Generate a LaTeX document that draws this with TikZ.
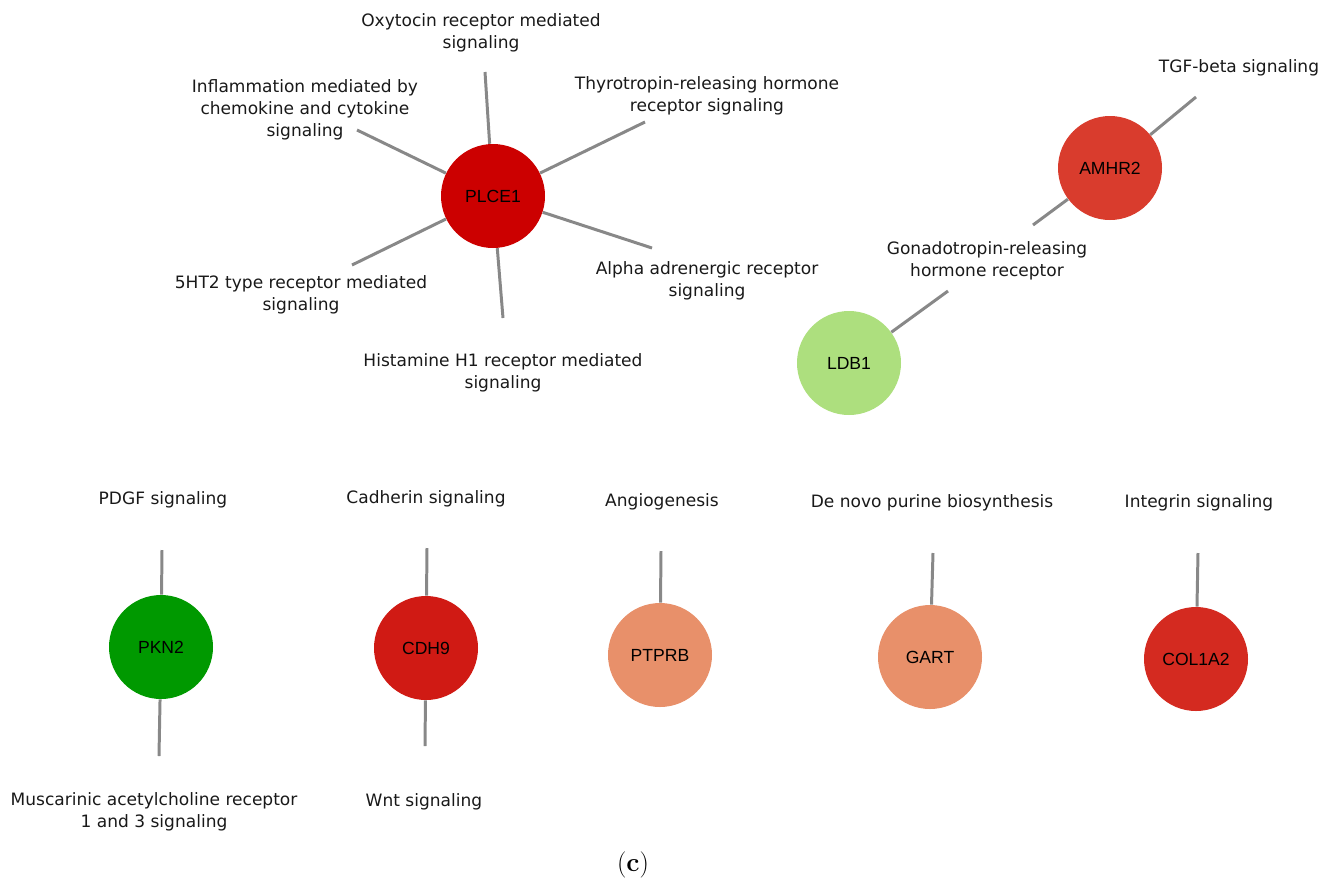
\documentclass[tikz,border=0pt]{standalone}
\usepackage{fontspec}
\setmainfont{Latin Modern Roman}
\newfontfamily\lblfont{DejaVu Sans}
\newfontfamily\genefont{Liberation Sans}
\definecolor{cPLCE}{RGB}{204,0,0}
\definecolor{cAMHR}{RGB}{217,60,45}
\definecolor{cLDB}{RGB}{173,223,126}
\definecolor{cPKN}{RGB}{0,153,0}
\definecolor{cCDH}{RGB}{208,26,20}
\definecolor{cPTP}{RGB}{232,144,106}
\definecolor{cGART}{RGB}{232,144,106}
\definecolor{cCOL}{RGB}{212,42,32}
\definecolor{edgegray}{RGB}{136,136,136}
\tikzset{
  gene/.style={circle, minimum size=104*0.02cm, inner sep=0pt, font=\genefont\fontsize{10}{11}\selectfont, text=black},
  lbl/.style={align=center, inner sep=0pt, font=\lblfont\fontsize{9.7}{12.5}\selectfont, text=black!90},
  lnk/.style={draw=edgegray, line width=1.7pt}
}
\begin{document}
\begin{tikzpicture}[x=0.02cm,y=-0.02cm]
\useasboundingbox (0,0) rectangle (1332,880);
% coordinates of edge ends
\coordinate (eOxy) at (485,72);
\coordinate (eThy) at (645,122);
\coordinate (eInf) at (357,130);
\coordinate (e5HT) at (352,265);
\coordinate (eHis) at (503,318);
\coordinate (eAlp) at (652,248);
\coordinate (eTGF) at (1196,97);
\coordinate (eGnA) at (1033,225);
\coordinate (eGnL) at (948,291);
\coordinate (ePDGF) at (162,550);
\coordinate (eMus) at (159,756);
\coordinate (eCad) at (427,548);
\coordinate (eWnt) at (425,746);
\coordinate (eAng) at (661,551);
\coordinate (eDen) at (933,553);
\coordinate (eInt) at (1198,553);
% genes
\node[gene, fill=cPLCE] (plce) at (493,196) {PLCE1};
\node[gene, fill=cAMHR] (amhr) at (1110,168) {AMHR2};
\node[gene, fill=cLDB] (ldb) at (849,363) {LDB1};
\node[gene, fill=cPKN] (pkn) at (161,647) {PKN2};
\node[gene, fill=cCDH] (cdh) at (426,648) {CDH9};
\node[gene, fill=cPTP] (ptp) at (660,655) {PTPRB};
\node[gene, fill=cGART] (gart) at (930,657) {GART};
\node[gene, fill=cCOL] (col) at (1196,659) {COL1A2};
% edges
\draw[lnk] (plce) -- (eOxy);
\draw[lnk] (plce) -- (eThy);
\draw[lnk] (plce) -- (eInf);
\draw[lnk] (plce) -- (e5HT);
\draw[lnk] (plce) -- (eHis);
\draw[lnk] (plce) -- (eAlp);
\draw[lnk] (amhr) -- (eTGF);
\draw[lnk] (amhr) -- (eGnA);
\draw[lnk] (ldb) -- (eGnL);
\draw[lnk] (pkn) -- (ePDGF);
\draw[lnk] (pkn) -- (eMus);
\draw[lnk] (cdh) -- (eCad);
\draw[lnk] (cdh) -- (eWnt);
\draw[lnk] (ptp) -- (eAng);
\draw[lnk] (gart) -- (eDen);
\draw[lnk] (col) -- (eInt);
% labels
\node[lbl] (lOxy) at (481,33) {Oxytocin receptor mediated\\signaling};
\node[lbl] (lInf) at (305,110) {Inflammation mediated by\\chemokine and cytokine\\signaling};
\node[lbl] (lThy) at (707,96) {Thyrotropin-releasing hormone\\receptor signaling};
\node[lbl] (l5HT) at (301,295) {5HT2 type receptor mediated\\signaling};
\node[lbl] (lAlp) at (707,281) {Alpha adrenergic receptor\\signaling};
\node[lbl] (lHis) at (503,373) {Histamine H1 receptor mediated\\signaling};
\node[lbl] (lTGF) at (1239,68) {TGF-beta signaling};
\node[lbl] (lGn) at (987,261) {Gonadotropin-releasing\\hormone receptor};
\node[lbl] (lPDGF) at (163,500) {PDGF signaling};
\node[lbl] (lCad) at (426,499) {Cadherin signaling};
\node[lbl] (lAng) at (662,502) {Angiogenesis};
\node[lbl] (lDen) at (932,503) {De novo purine biosynthesis};
\node[lbl] (lInt) at (1199,503) {Integrin signaling};
\node[lbl] (lMus) at (154,812) {Muscarinic acetylcholine receptor\\1 and 3 signaling};
\node[lbl] (lWnt) at (424,802) {Wnt signaling};
\node[inner sep=0pt, font=\fontsize{15}{17}\selectfont] (cap) at (633,865) {(\textbf{c})};
\end{tikzpicture}
\end{document}
